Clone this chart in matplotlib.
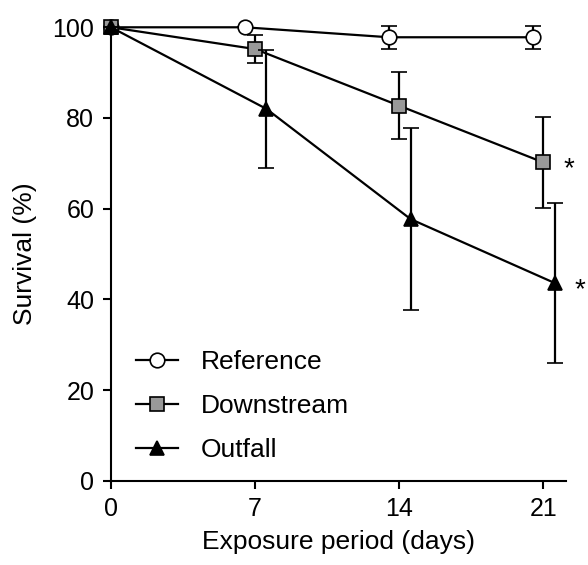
import numpy as np
import matplotlib.pyplot as plt
from matplotlib.lines import Line2D

plt.rcParams['font.family'] = ['Liberation Sans', 'DejaVu Sans']

days = np.array([0, 7, 14, 21])
reference = [100, 100, 97.8, 97.8]
reference_err = [0, 0, 2.5, 2.5]
downstream = [100, 95.2, 82.7, 70.2]
downstream_err = [0, 3, 7.4, 10]
outfall = [100, 82, 57.7, 43.6]
outfall_err = [0, 13, 20, 17.6]
signif = ["", "", "", "*"]  # vs reference, shown for downstream and outfall


def shifted(d, off):
    # small dodge so the error bars don't overlap (not at day 0)
    return np.where(d > 0, d + off, d)


fig = plt.figure(figsize=(5.88, 5.65), dpi=100)
ax = fig.add_axes([0.1888, 0.1492, 0.7738, 0.8025])

common = dict(color='black', lw=1.6, elinewidth=1.6, capsize=6, capthick=1.6,
              markeredgecolor='black', markeredgewidth=1.2, clip_on=False)

ax.errorbar(shifted(days, -0.5), reference, yerr=reference_err, marker='o',
            markersize=10.5, markerfacecolor='white', zorder=3, **common)
ax.errorbar(shifted(days, 0.0), downstream, yerr=downstream_err, marker='s',
            markersize=10.5, markerfacecolor='#999999', zorder=4, **common)
ax.errorbar(shifted(days, 0.55), outfall, yerr=outfall_err, marker='^',
            markersize=10.5, markerfacecolor='black', zorder=5, **common)

for x, y, s in zip(shifted(days, 0.0), downstream, signif):
    if s:
        ax.text(x + 1.25, y - 1.5, s, fontsize=20, ha='center', va='center')
for x, y, s in zip(shifted(days, 0.55), outfall, signif):
    if s:
        ax.text(x + 1.2, y - 1.5, s, fontsize=20, ha='center', va='center')

ax.set_xlim(0, 22.1)
ax.set_ylim(0, 100)
ax.set_xticks(days)
ax.set_yticks([0, 20, 40, 60, 80, 100])
ax.spines['top'].set_visible(False)
ax.spines['right'].set_visible(False)
for sp in ['left', 'bottom']:
    ax.spines[sp].set_linewidth(1.5)
ax.tick_params(width=1.5, length=6, labelsize=18, pad=6)
ax.set_xlabel('Exposure period (days)', fontsize=19, labelpad=6)
ax.set_ylabel('Survival (%)', fontsize=19, labelpad=11)

handles = [
    Line2D([], [], color='black', lw=1.6, marker='o', markersize=10.5,
           markerfacecolor='white', markeredgecolor='black', markeredgewidth=1.2),
    Line2D([], [], color='black', lw=1.6, marker='s', markersize=10.5,
           markerfacecolor='#999999', markeredgecolor='black', markeredgewidth=1.2),
    Line2D([], [], color='black', lw=1.6, marker='^', markersize=10.5,
           markerfacecolor='black', markeredgecolor='black', markeredgewidth=1.2),
]
ax.legend(handles, ['Reference', 'Downstream', 'Outfall'], loc='upper left',
          bbox_to_anchor=(0.003, 0.34), frameon=False, fontsize=19,
          handlelength=1.6, handletextpad=0.85, labelspacing=0.75)

fig.savefig('out.png', dpi=100)
